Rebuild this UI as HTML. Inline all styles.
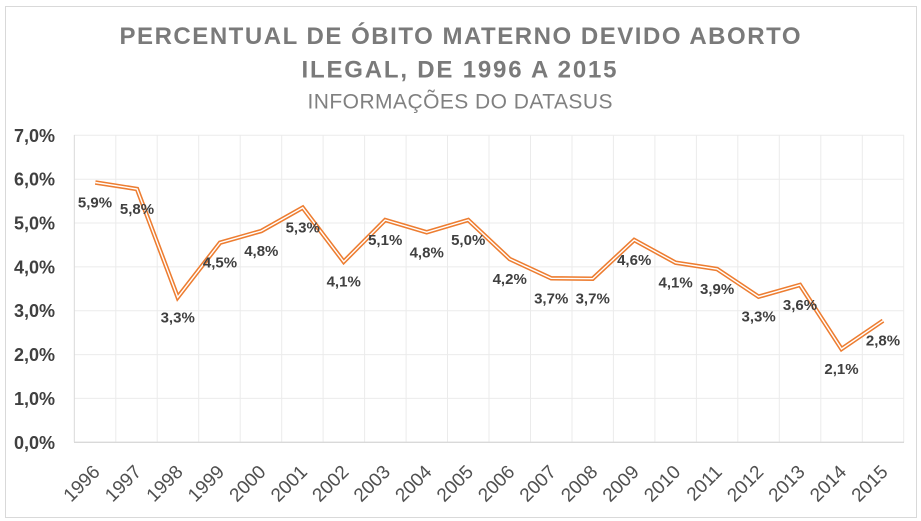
<!DOCTYPE html>
<html><head><meta charset="utf-8">
<style>
html,body{margin:0;padding:0;background:#fff;}
svg{display:block;}
</style></head>
<body>
<svg width="921" height="521" viewBox="0 0 921 521" xmlns="http://www.w3.org/2000/svg">
<rect x="0" y="0" width="921" height="521" fill="#fff"/>
<rect x="5.5" y="6.5" width="911" height="511" fill="#fff" stroke="#d9d9d9" stroke-width="1"/>
<g font-family="'Liberation Sans', sans-serif">
<text x="460" y="44" text-anchor="middle" font-size="24" font-weight="bold" fill="#7a7a7a" textLength="681" lengthAdjust="spacing">PERCENTUAL DE ÓBITO MATERNO DEVIDO ABORTO</text>
<text x="459" y="77.7" text-anchor="middle" font-size="24" font-weight="bold" fill="#7a7a7a" textLength="315" lengthAdjust="spacing">ILEGAL, DE 1996 A 2015</text>
<text x="460" y="108.5" text-anchor="middle" font-size="21" fill="#808080" textLength="305" lengthAdjust="spacing">INFORMAÇÕES DO DATASUS</text>
</g>
<g stroke="#ebebeb" stroke-width="1" fill="none" id="grid">
<line x1="74" y1="135.3" x2="904" y2="135.3"/>
<line x1="74" y1="179.2" x2="904" y2="179.2"/>
<line x1="74" y1="223.0" x2="904" y2="223.0"/>
<line x1="74" y1="266.9" x2="904" y2="266.9"/>
<line x1="74" y1="310.7" x2="904" y2="310.7"/>
<line x1="74" y1="354.6" x2="904" y2="354.6"/>
<line x1="74" y1="398.4" x2="904" y2="398.4"/>
<line x1="115.8" y1="135" x2="115.8" y2="442"/>
<line x1="157.2" y1="135" x2="157.2" y2="442"/>
<line x1="198.7" y1="135" x2="198.7" y2="442"/>
<line x1="240.2" y1="135" x2="240.2" y2="442"/>
<line x1="281.7" y1="135" x2="281.7" y2="442"/>
<line x1="323.1" y1="135" x2="323.1" y2="442"/>
<line x1="364.6" y1="135" x2="364.6" y2="442"/>
<line x1="406.1" y1="135" x2="406.1" y2="442"/>
<line x1="447.5" y1="135" x2="447.5" y2="442"/>
<line x1="489.0" y1="135" x2="489.0" y2="442"/>
<line x1="530.5" y1="135" x2="530.5" y2="442"/>
<line x1="572.0" y1="135" x2="572.0" y2="442"/>
<line x1="613.4" y1="135" x2="613.4" y2="442"/>
<line x1="654.9" y1="135" x2="654.9" y2="442"/>
<line x1="696.4" y1="135" x2="696.4" y2="442"/>
<line x1="737.8" y1="135" x2="737.8" y2="442"/>
<line x1="779.3" y1="135" x2="779.3" y2="442"/>
<line x1="820.8" y1="135" x2="820.8" y2="442"/>
<line x1="862.3" y1="135" x2="862.3" y2="442"/>
<line x1="903.7" y1="135" x2="903.7" y2="442"/>
</g>
<line x1="74.3" y1="135" x2="74.3" y2="442" stroke="#d9d9d9" stroke-width="1"/>
<line x1="74" y1="442.3" x2="904" y2="442.3" stroke="#d9d9d9" stroke-width="1.3"/>
<g font-family="'Liberation Sans', sans-serif" font-size="18" font-weight="bold" fill="#404040" text-anchor="end">
<text x="55" y="141.8">7,0%</text>
<text x="55" y="185.7">6,0%</text>
<text x="55" y="229.5">5,0%</text>
<text x="55" y="273.4">4,0%</text>
<text x="55" y="317.2">3,0%</text>
<text x="55" y="361.1">2,0%</text>
<text x="55" y="404.9">1,0%</text>
<text x="55" y="448.8">0,0%</text>
</g>
<polyline fill="none" stroke="#ED7D31" stroke-width="4.5" stroke-linejoin="miter" points="95.3,182.5 137,189 177.7,297.3 220,242.7 261.3,231 302.7,207.7 343.7,261.7 385.2,220 426.7,232.3 468.2,220 509.7,259 551.2,278.3 592.7,278.7 634.2,240 675.6,262.7 717.1,269 758.6,296.7 800,285 841.5,349 883,320.7"/>
<polyline fill="none" stroke="#ffffff" stroke-width="1.4" stroke-linejoin="miter" points="95.3,182.5 137,189 177.7,297.3 220,242.7 261.3,231 302.7,207.7 343.7,261.7 385.2,220 426.7,232.3 468.2,220 509.7,259 551.2,278.3 592.7,278.7 634.2,240 675.6,262.7 717.1,269 758.6,296.7 800,285 841.5,349 883,320.7"/>
<g font-family="'Liberation Sans', sans-serif" font-size="15" font-weight="bold" fill="#404040" text-anchor="middle">
<text x="95" y="207.5">5,9%</text>
<text x="137" y="214">5,8%</text>
<text x="177.7" y="322.3">3,3%</text>
<text x="220" y="267.7">4,5%</text>
<text x="261.3" y="256">4,8%</text>
<text x="302.7" y="232.7">5,3%</text>
<text x="343.7" y="286.7">4,1%</text>
<text x="385.2" y="245">5,1%</text>
<text x="426.7" y="257.3">4,8%</text>
<text x="468.2" y="245">5,0%</text>
<text x="509.7" y="284">4,2%</text>
<text x="551.2" y="303.3">3,7%</text>
<text x="592.7" y="303.7">3,7%</text>
<text x="634.2" y="265">4,6%</text>
<text x="675.6" y="287.7">4,1%</text>
<text x="717.1" y="294">3,9%</text>
<text x="758.6" y="321.7">3,3%</text>
<text x="800" y="310">3,6%</text>
<text x="841.5" y="374">2,1%</text>
<text x="883" y="345.7">2,8%</text>
</g>
<g font-family="'Liberation Sans', sans-serif" font-size="19" fill="#505050" text-anchor="end">
<text transform="translate(101,473) rotate(-45)">1996</text>
<text transform="translate(142.5,473) rotate(-45)">1997</text>
<text transform="translate(184,473) rotate(-45)">1998</text>
<text transform="translate(225.4,473) rotate(-45)">1999</text>
<text transform="translate(266.9,473) rotate(-45)">2000</text>
<text transform="translate(308.4,473) rotate(-45)">2001</text>
<text transform="translate(349.8,473) rotate(-45)">2002</text>
<text transform="translate(391.3,473) rotate(-45)">2003</text>
<text transform="translate(432.8,473) rotate(-45)">2004</text>
<text transform="translate(474.3,473) rotate(-45)">2005</text>
<text transform="translate(515.7,473) rotate(-45)">2006</text>
<text transform="translate(557.2,473) rotate(-45)">2007</text>
<text transform="translate(598.7,473) rotate(-45)">2008</text>
<text transform="translate(640.1,473) rotate(-45)">2009</text>
<text transform="translate(681.6,473) rotate(-45)">2010</text>
<text transform="translate(723.1,473) rotate(-45)">2011</text>
<text transform="translate(764.6,473) rotate(-45)">2012</text>
<text transform="translate(806,473) rotate(-45)">2013</text>
<text transform="translate(847.5,473) rotate(-45)">2014</text>
<text transform="translate(889,473) rotate(-45)">2015</text>
</g>
</svg>
</body></html>
